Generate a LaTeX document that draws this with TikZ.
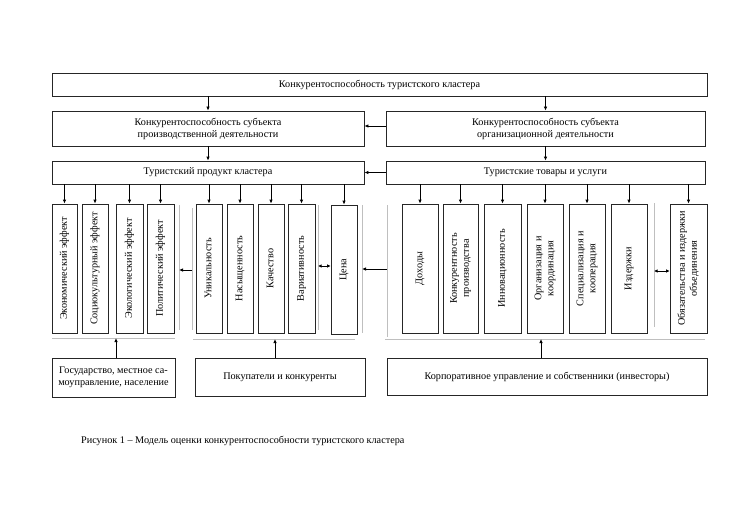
\documentclass[tikz,border=0pt]{standalone}
\usepackage{fontspec}
\setmainfont{Liberation Serif}
\usetikzlibrary{arrows.meta}
\tikzset{
  box/.style={draw=black!85, line width=0.8pt, inner sep=1pt, align=center, font=\fontsize{10.2}{12}\selectfont},
  vbox/.style={box, minimum height=129pt},
  arr/.style={line width=0.8pt, -{Latex[length=4pt,width=3.5pt]}},
  darr/.style={line width=0.8pt, {Latex[length=3.5pt,width=3.5pt]}-{Latex[length=3.5pt,width=3.5pt]}},
  grayline/.style={draw=black!25, line width=1pt}
}
\newcommand{\vt}[1]{\rotatebox{90}{\begin{tabular}{@{}c@{}}#1\end{tabular}}}
\begin{document}
\begin{tikzpicture}[x=1pt,y=-1pt]
\useasboundingbox (0,0) rectangle (730,516);
\fill[white] (0,0) rectangle (730,516);
% top rows
\node[box, minimum width=655pt, minimum height=23pt] (T) at (379.5,84.5) {Конкурентоспособность туристского кластера};
\node[box, minimum width=312pt, minimum height=35pt] (P1) at (208,128.5) {Конкурентоспособность субъекта\\производственной деятельности};
\node[box, minimum width=319pt, minimum height=35pt] (P2) at (545.5,128.5) {Конкурентоспособность субъекта\\организационной деятельности};
\node[box, minimum width=312pt, minimum height=23pt] (Q1) at (208,172.5) {Туристский продукт кластера};
\node[box, minimum width=319pt, minimum height=23pt] (Q2) at (545.5,172.5) {Туристские товары и услуги};
\draw[arr] (T.south -| P1.north) -- (P1.north);
\draw[arr] (T.south -| P2.north) -- (P2.north);
\draw[arr] (P1.south) -- (Q1.north);
\draw[arr] (P2.south) -- (Q2.north);
\draw[arr] (P2.west |- 0,126) -- (P1.east |- 0,126);
\draw[arr] (Q2.west) -- (Q1.east);
% vertical boxes group A
\node[vbox, minimum width=25pt] (A1) at (64.5,268.5) {\vt{Экономический эффект}};
\node[vbox, minimum width=26pt] (A2) at (95,268.5) {\vt{Социокультурный эффект}};
\node[vbox, minimum width=27pt] (A3) at (129.5,268.5) {\vt{Экологический эффект}};
\node[vbox, minimum width=27pt] (A4) at (160.5,268.5) {\vt{Политический эффект}};
% group B
\node[vbox, minimum width=26pt] (B1) at (209,268.5) {\vt{Уникальность}};
\node[vbox, minimum width=26pt] (B2) at (240,268.5) {\vt{Насыщенность}};
\node[vbox, minimum width=26pt] (B3) at (271,268.5) {\vt{Качество}};
\node[vbox, minimum width=27pt] (B4) at (301.5,268.5) {\vt{Вариативность}};
\node[vbox, minimum width=26pt] (B5) at (344,269.5) {\vt{Цена}};
% group C
\node[vbox, minimum width=36pt] (C1) at (420,268.5) {\vt{Доходы}};
\node[vbox, minimum width=35pt] (C2) at (460.5,268.5) {\vt{Конкурентность\\производства}};
\node[vbox, minimum width=37pt] (C3) at (502.5,268.5) {\vt{Инновационность}};
\node[vbox, minimum width=36pt] (C4) at (545,268.5) {\vt{Организация и\\координация}};
\node[vbox, minimum width=36pt] (C5) at (587,268.5) {\vt{Специализация и\\кооперация}};
\node[vbox, minimum width=36pt] (C6) at (629,268.5) {\vt{Издержки}};
\node[vbox, minimum width=37pt] (C7) at (688.5,268.5) {\vt{Обязательства и издержки\\объединения}};
\foreach \n in {A1,A2,A3,A4,B1,B2,B3,B4,B5}{\draw[arr] (Q1.south -| \n.north) -- (\n.north);}
\foreach \n in {C1,C2,C3,C4,C5,C6,C7}{\draw[arr] (Q2.south -| \n.north) -- (\n.north);}
% gray bracket lines
\coordinate (gar1) at (179,205); \coordinate (gar2) at (179,330);
\coordinate (gab1) at (52,338); \coordinate (gab2) at (175,338);
\coordinate (gbl1) at (192,208); \coordinate (gbl2) at (192,330);
\coordinate (gbm1) at (318,205); \coordinate (gbm2) at (318,330);
\coordinate (gbr1) at (362,205); \coordinate (gbr2) at (362,333);
\coordinate (gbb1) at (193,339); \coordinate (gbb2) at (355,339);
\coordinate (gcl1) at (387,205); \coordinate (gcl2) at (387,337);
\coordinate (gcm1) at (654,203); \coordinate (gcm2) at (654,327);
\coordinate (gcb1) at (385,339); \coordinate (gcb2) at (705,339);
\draw[grayline] (gar1) -- (gar2);
\draw[grayline] (gab1) -- (gab2);
\draw[grayline] (gbl1) -- (gbl2);
\draw[grayline] (gbm1) -- (gbm2);
\draw[grayline] (gbr1) -- (gbr2);
\draw[grayline] (gbb1) -- (gbb2);
\draw[grayline] (gcl1) -- (gcl2);
\draw[grayline] (gcm1) -- (gcm2);
\draw[grayline] (gcb1) -- (gcb2);
% horizontal arrows between groups
\draw[arr] (gbl1 |- 0,270) -- (gar1 |- 0,270);
\draw[arr] (gcl1 |- 0,269) -- (gbr1 |- 0,269);
\draw[darr] (gbm1 |- 0,266) -- (B5.west |- 0,266);
\draw[darr] (gcm1 |- 0,271) -- (C7.west |- 0,271);
% bottom boxes
\node[box, minimum width=123pt, minimum height=39pt] (G1) at (113.5,377.5) {Государство, местное са-\\моуправление, население};
\node[box, minimum width=170pt, minimum height=38pt] (G2) at (280,377) {Покупатели и конкуренты};
\node[box, minimum width=320pt, minimum height=37pt] (G3) at (547,376.5) {Корпоративное управление и собственники (инвесторы)};
\draw[arr] ([xshift=2.5pt]G1.north) -- ([xshift=2.5pt]G1.north |- gab1);
\draw[arr] ([xshift=-5pt]G2.north) -- ([xshift=-5pt]G2.north |- gbb1);
\draw[arr] ([xshift=-6pt]G3.north) -- ([xshift=-6pt]G3.north |- gcb1);
% caption
\node[anchor=west, inner sep=0pt, font=\fontsize{10.2}{12}\selectfont] (cap) at (81,441) {Рисунок 1 – Модель оценки конкурентоспособности туристского кластера};
\end{tikzpicture}
\end{document}
